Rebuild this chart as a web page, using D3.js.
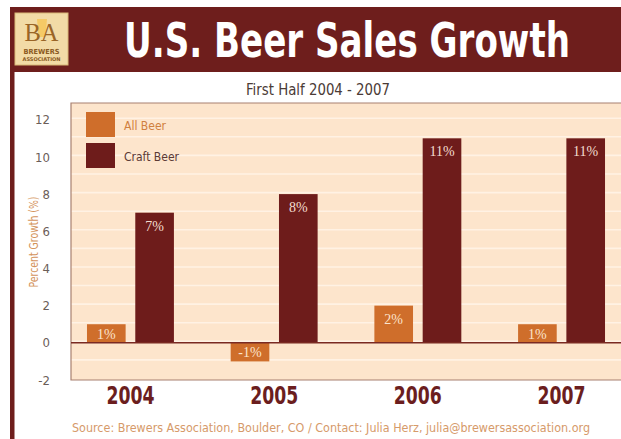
<!DOCTYPE html>
<html>
<head>
<meta charset="utf-8">
<script src="https://cdn.jsdelivr.net/npm/d3@7"></script>
<style>
  html, body { margin: 0; padding: 0; background: #ffffff; }
  svg { display: block; }
  .narrow { font-family: "DejaVu Sans", "Liberation Sans", sans-serif; font-stretch: condensed; }
</style>
</head>
<body>
<svg id="chart" width="621" height="439"></svg>
<script>
// Half-year growth figures, percent
const years = ["2004", "2005", "2006", "2007"];
const seriesNames = ["All Beer", "Craft Beer"];
const allBeer = [1, -1, 2, 1];
const craftBeer = [7, 8, 11, 11];
const yTicks = [-2, 0, 2, 4, 6, 8, 10, 12];

const seriesValues = { "All Beer": allBeer, "Craft Beer": craftBeer };
const colors = { "All Beer": "#cf6e2b", "Craft Beer": "#6e1c1b" };
const legendText = { "All Beer": "#d0803f", "Craft Beer": "#5b3a35" };
const legendWidth = { "All Beer": 42, "Craft Beer": 55 };

const svg = d3.select("#chart");
const W = 621, H = 439;

// frame: white card with dark red header band and left edge
svg.append("rect").attr("x", 0).attr("y", 0).attr("width", W).attr("height", H).attr("fill", "#ffffff");
svg.append("rect").attr("x", 10).attr("y", 7).attr("width", W - 10).attr("height", 65).attr("fill", "#6e1e1c");
svg.append("rect").attr("x", 10).attr("y", 7).attr("width", 4.5).attr("height", H - 7).attr("fill", "#6e1e1c");

// association badge
const logo = svg.append("g");
logo.append("rect").attr("x", 15).attr("y", 13).attr("width", 53).attr("height", 52)
  .attr("fill", "#f2dba6").attr("stroke", "#d9b978").attr("stroke-width", 1);
logo.append("path").attr("d", "M37,19 L47,19 L45.5,37 L38.5,37 Z").attr("fill", "#f6c75a").attr("opacity", 0.85);
logo.append("text").attr("x", 41.5).attr("y", 41).attr("text-anchor", "middle")
  .attr("font-family", "Liberation Serif, serif").attr("font-size", 26)
  .attr("fill", "#9a6526").attr("textLength", 34).attr("lengthAdjust", "spacingAndGlyphs").text("BA");
logo.append("text").attr("x", 41.5).attr("y", 54).attr("text-anchor", "middle")
  .attr("class", "narrow").attr("font-weight", "bold").attr("font-size", 7)
  .attr("fill", "#8a5a22").attr("textLength", 36).attr("lengthAdjust", "spacingAndGlyphs").text("BREWERS");
logo.append("text").attr("x", 41.5).attr("y", 61).attr("text-anchor", "middle")
  .attr("class", "narrow").attr("font-weight", "bold").attr("font-size", 5)
  .attr("fill", "#8a5a22").attr("textLength", 38).attr("lengthAdjust", "spacingAndGlyphs").text("ASSOCIATION");

// header title (tall condensed lettering) and subtitle
svg.append("text").attr("class", "narrow")
  .attr("transform", "translate(124,57) scale(1,1.3)")
  .attr("font-weight", "bold").attr("font-size", 37).attr("fill", "#ffffff")
  .attr("textLength", 446).attr("lengthAdjust", "spacingAndGlyphs")
  .text("U.S. Beer Sales Growth");
svg.append("text").attr("class", "narrow").attr("x", 246).attr("y", 95)
  .attr("font-size", 15.5).attr("fill", "#4b3b36")
  .attr("textLength", 144).attr("lengthAdjust", "spacingAndGlyphs")
  .text("First Half 2004 - 2007");

// plot area
const plot = { left: 71, right: W, top: 103, bottom: 380 };

const y = d3.scaleLinear().domain([-2, 12.9]).range([plot.bottom, plot.top]);
const x0 = d3.scaleBand().domain(years).range([58.6, 633.4]).paddingInner(0.395).paddingOuter(0.1975);
const x1 = d3.scaleBand().domain(seriesNames).range([0, x0.bandwidth()]).paddingInner(0.2);

svg.append("rect").attr("x", plot.left).attr("y", plot.top)
  .attr("width", plot.right - plot.left).attr("height", plot.bottom - plot.top)
  .attr("fill", "#fde5cc");

// faint pale rules across the background, one per unit
const rules = d3.range(-1, 13);
svg.append("g").selectAll("line").data(rules).join("line")
  .attr("x1", plot.left).attr("x2", plot.right)
  .attr("y1", d => y(d) - 1.5).attr("y2", d => y(d) - 1.5)
  .attr("stroke", "#fff2e4").attr("stroke-width", 1.6);

// border on left, top and bottom
svg.append("path")
  .attr("d", `M${plot.right},${plot.top}H${plot.left}V${plot.bottom}H${plot.right}`)
  .attr("fill", "none").attr("stroke", "#a88070").attr("stroke-width", 1.2);

// y axis labels (plain hyphen for negatives)
const yAxis = svg.append("g").attr("transform", `translate(${plot.left - 4},0)`)
  .call(d3.axisLeft(y).tickValues(yTicks).tickSize(0).tickPadding(17).tickFormat(d => String(d)));
yAxis.select(".domain").remove();
yAxis.attr("font-family", null).attr("font-size", null);
yAxis.selectAll("text").attr("class", "narrow").attr("font-size", 13).attr("fill", "#6b5d58");

svg.append("text").attr("class", "narrow")
  .attr("transform", "translate(38,242) rotate(-90)")
  .attr("text-anchor", "middle").attr("font-size", 12).attr("fill", "#d4935c")
  .attr("textLength", 91).attr("lengthAdjust", "spacingAndGlyphs")
  .text("Percent Growth (%)");

// bars
const rows = [];
years.forEach((yr, i) => seriesNames.forEach(s => rows.push({ year: yr, series: s, value: seriesValues[s][i] })));

const bars = svg.append("g").selectAll("g").data(rows).join("g")
  .attr("transform", d => `translate(${x0(d.year) + x1(d.series)},0)`);

bars.append("rect")
  .attr("x", 0).attr("width", x1.bandwidth())
  .attr("y", d => y(Math.max(0, d.value)))
  .attr("height", d => Math.abs(y(d.value) - y(0)))
  .attr("fill", d => colors[d.series]);

bars.append("text")
  .attr("x", x1.bandwidth() / 2)
  .attr("y", d => {
    const top = y(Math.max(0, d.value));
    const h = Math.abs(y(d.value) - y(0));
    return top + Math.min(18, h / 2 + 5);
  })
  .attr("text-anchor", "middle")
  .attr("font-family", "Liberation Serif, 'DejaVu Serif', serif")
  .attr("font-size", 14)
  .attr("fill", d => d.series === "All Beer" ? "#fbe3cc" : "#f3dcd0")
  .text(d => d.value + "%");

// zero baseline
svg.append("line").attr("x1", plot.left).attr("x2", plot.right)
  .attr("y1", y(0)).attr("y2", y(0))
  .attr("stroke", "#7a2a22").attr("stroke-width", 1.5);

// year labels
svg.append("g").selectAll("text").data(years).join("text")
  .attr("class", "narrow")
  .attr("x", d => x0(d) + x0.bandwidth() / 2 - 24).attr("y", 404)
  .attr("font-weight", "bold").attr("font-size", 24)
  .attr("textLength", 48).attr("lengthAdjust", "spacingAndGlyphs")
  .attr("fill", "#6b1e1e").text(d => d);

// legend
const legend = svg.append("g").selectAll("g").data(seriesNames).join("g")
  .attr("transform", (d, i) => `translate(86,${112 + i * 31})`);
legend.append("rect").attr("width", 29).attr("height", 25)
  .attr("fill", d => colors[d]);
legend.append("text").attr("class", "narrow").attr("x", 38).attr("y", 18)
  .attr("font-size", 13).attr("fill", d => legendText[d])
  .attr("textLength", d => legendWidth[d]).attr("lengthAdjust", "spacingAndGlyphs")
  .text(d => d);

// source line
svg.append("text").attr("class", "narrow").attr("x", 72).attr("y", 432)
  .attr("font-size", 13).attr("fill", "#d69a6a")
  .attr("textLength", 518).attr("lengthAdjust", "spacingAndGlyphs")
  .text("Source: Brewers Association, Boulder, CO  /  Contact: Julia Herz, julia@brewersassociation.org");
</script>
</body>
</html>
